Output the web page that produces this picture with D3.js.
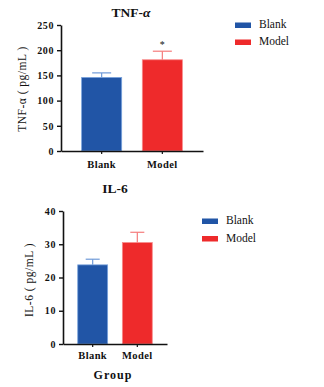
<!DOCTYPE html>
<html>
<head>
<meta charset="utf-8">
<script src="https://cdn.jsdelivr.net/npm/d3@7"></script>
<style>
  html, body { margin: 0; padding: 0; background: #fff; }
  svg { display: block; }
  text { font-family: "Liberation Serif", "Times New Roman", serif; fill: #111; }
</style>
</head>
<body>
<script>
// Groups and measured values (mean and upper error) for each cytokine
const groups = ["Blank", "Model"];
const tnfMeans = [146, 181];
const tnfErrors = [155, 198];
const tnfTicks = [0, 50, 100, 150, 200, 250];
const il6Means = [23.8, 30.5];
const il6Errors = [25.5, 33.6];
const il6Ticks = [0, 10, 20, 30, 40];
const fills = ["#2155a6", "#ee2a2b"];
const errColors = ["#6f9ad8", "#f57b7b"];
const edgeColors = ["#7aa3dc", "#f78a8a"];

const W = 324, H = 387;
const svg = d3.select("body").append("svg").attr("width", W).attr("height", H);

function panel(opt) {
  const g = svg.append("g");
  const x = d3.scaleBand().domain(groups).range(opt.xRange).padding(opt.pad);
  const y = d3.scaleLinear().domain(opt.yDomain).range(opt.yRange);

  // bars
  g.selectAll("rect.bar").data(groups).join("rect")
    .attr("class", "bar")
    .attr("x", d => x(d))
    .attr("width", x.bandwidth())
    .attr("y", (d, i) => y(opt.means[i]))
    .attr("height", (d, i) => y(0) - y(opt.means[i]))
    .attr("fill", (d, i) => fills[i])
    .attr("stroke", (d, i) => edgeColors[i])
    .attr("stroke-width", 0.8);

  // upper error bars with caps
  groups.forEach((d, i) => {
    const cx = x(d) + x.bandwidth() / 2;
    g.append("line").attr("x1", cx).attr("x2", cx)
      .attr("y1", y(opt.means[i])).attr("y2", y(opt.errs[i]))
      .attr("stroke", errColors[i]).attr("stroke-width", 1.2);
    g.append("line").attr("x1", cx - opt.cap / 2).attr("x2", cx + opt.cap / 2)
      .attr("y1", y(opt.errs[i])).attr("y2", y(opt.errs[i]))
      .attr("stroke", errColors[i]).attr("stroke-width", 1.2);
  });

  // y axis
  const ya = g.append("g").attr("transform", `translate(${opt.xRange[0]},0)`)
    .call(d3.axisLeft(y).tickValues(opt.ticks).tickSize(4).tickPadding(3).tickSizeOuter(0));
  ya.select(".domain").attr("stroke", "#111").attr("stroke-width", 1.6);
  ya.selectAll(".tick line").attr("stroke", "#111").attr("stroke-width", 1.4);
  ya.selectAll(".tick text").attr("font-size", 10).attr("font-weight", "bold")
    .attr("letter-spacing", "0.6px")
    .style("font-family", "'Liberation Serif', serif").attr("fill", "#111");

  // x axis
  const xa = g.append("g").attr("transform", `translate(0,${opt.yRange[0]})`)
    .call(d3.axisBottom(x).tickSize(3).tickPadding(opt.xPad).tickSizeOuter(0));
  xa.select(".domain").attr("stroke", "#111").attr("stroke-width", 1.6);
  xa.selectAll(".tick line").attr("stroke", "#111").attr("stroke-width", 1.2);
  xa.selectAll(".tick text").attr("font-size", 10.5).attr("font-weight", "bold")
    .attr("letter-spacing", "0.4px")
    .style("font-family", "'Liberation Serif', serif").attr("fill", "#111");

  // title
  g.append("text").attr("x", opt.titleX).attr("y", opt.titleY)
    .attr("text-anchor", "middle").attr("font-size", 13.5).attr("font-weight", "bold")
    .html(opt.title);

  // y axis label
  g.append("text")
    .attr("transform", `translate(${opt.labelX},${opt.labelY}) rotate(-90)`)
    .attr("text-anchor", "middle").attr("font-size", 11.5).attr("letter-spacing", "0.5px")
    .text(opt.yLabel);

  // legend
  groups.forEach((d, i) => {
    const ly = opt.legY + i * opt.legGap;
    g.append("rect").attr("x", opt.legX).attr("y", ly - 5.5).attr("width", 16).attr("height", 5.5)
      .attr("fill", fills[i]);
    g.append("text").attr("x", opt.legX + 24).attr("y", ly)
      .attr("font-size", 11.5).text(d);
  });

  return { g, x, y };
}

const tnfPanel = panel({
  xRange: [61, 203], pad: 0.34, yDomain: [0, 250], yRange: [151, 25],
  means: tnfMeans, errs: tnfErrors, ticks: tnfTicks, cap: 19, xPad: 7,
  title: "TNF-<tspan font-style='italic'>α</tspan>", titleX: 131, titleY: 17,
  yLabel: "TNF-α ( pg/mL )", labelX: 26, labelY: 89,
  legX: 235, legY: 28, legGap: 17
});
// significance marker above the Model bar
tnfPanel.g.append("text")
  .attr("x", tnfPanel.x("Model") + tnfPanel.x.bandwidth() / 2)
  .attr("y", tnfPanel.y(tnfErrors[1]) - 3)
  .attr("text-anchor", "middle").attr("font-size", 10).text("*");

const il6Panel = panel({
  xRange: [63, 167], pad: 0.33, yDomain: [0, 40], yRange: [344, 211],
  means: il6Means, errs: il6Errors, ticks: il6Ticks, cap: 14, xPad: 5,
  title: "IL-6", titleX: 115, titleY: 193,
  yLabel: "IL-6 ( pg/mL )", labelX: 33, labelY: 280,
  legX: 202, legY: 224, legGap: 17.5
});
il6Panel.g.append("text").attr("x", 113).attr("y", 379)
  .attr("text-anchor", "middle").attr("font-size", 12).attr("font-weight", "bold")
  .attr("letter-spacing", "1px").text("Group");
</script>
</body>
</html>
